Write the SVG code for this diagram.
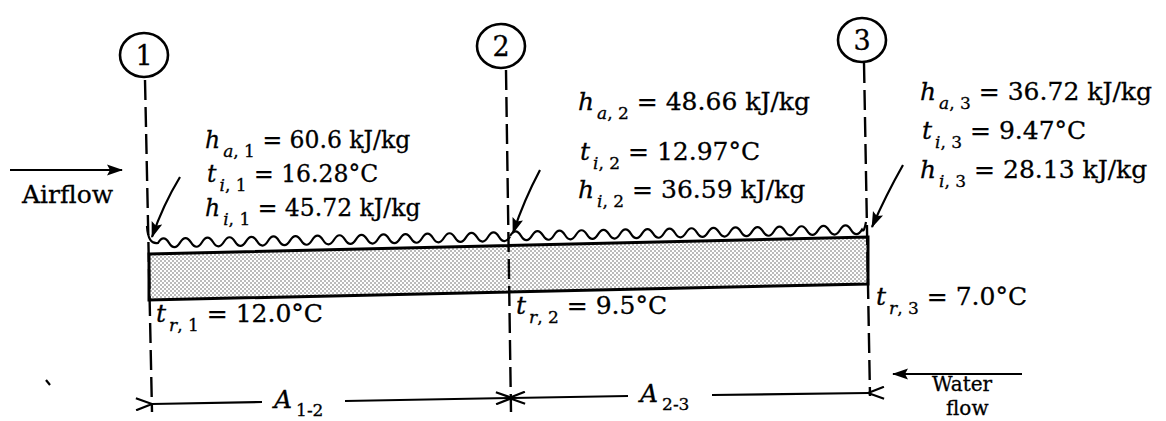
<svg xmlns="http://www.w3.org/2000/svg" width="1166" height="421" viewBox="0 0 1166 421">
<style>
.t{font-family:"DejaVu Serif","Liberation Serif",serif;font-size:25px;fill:#000;stroke:#000;stroke-width:0.3}
.g1{font-size:23.5px}
.i{font-style:italic}
.s{font-size:17px}
.wf{font-size:20px}
.num{font-family:"DejaVu Serif","Liberation Serif",serif;font-size:27px;text-anchor:middle;stroke:#000;stroke-width:0.3}
.dash{stroke:#000;stroke-width:2.4;stroke-dasharray:20 7;fill:none}
.ln{stroke:#000;stroke-width:2.2;fill:none}
.circ{stroke:#000;stroke-width:2.6;fill:#fff}
</style>
<defs>
<pattern id="dots" width="4" height="4" patternUnits="userSpaceOnUse">
<rect width="4" height="4" fill="#fff"/>
<circle cx="1" cy="1" r="0.7" fill="#444"/>
<circle cx="3" cy="3" r="0.7" fill="#444"/>
</pattern>
<marker id="af" markerWidth="16" markerHeight="12" refX="15" refY="6" orient="auto" markerUnits="userSpaceOnUse">
<path d="M0,0.5 L16,6 L0,11.5 L3,6 z" fill="#000"/>
</marker>
<marker id="ao" markerWidth="18" markerHeight="14" refX="1" refY="7" orient="auto-start-reverse" markerUnits="userSpaceOnUse">
<path d="M17,1 L1,7 L17,13" fill="none" stroke="#000" stroke-width="2.2"/>
</marker>
</defs>

<g id="stations">
<g id="station1">
<ellipse class="circ" cx="144" cy="55" rx="24" ry="22"/>
<text class="num" x="144" y="65">1</text>
</g>
<g id="station2">
<ellipse class="circ" cx="501" cy="46" rx="24" ry="22"/>
<text class="num" x="501" y="56">2</text>
</g>
<g id="station3">
<ellipse class="circ" cx="862" cy="40" rx="24" ry="22"/>
<text class="num" x="862" y="50">3</text>
</g>
</g>

<g id="coil">
<polygon points="149,254 868,237 868,284 149,300" fill="url(#dots)" stroke="#000" stroke-width="3"/>
<path class="ln" d="M147,226 Q148,245 158,243 q5.5,-9 11,-0.2 t11,-0.2 t11,-0.2 t11,-0.2 t11,-0.2 t11,-0.2 t11,-0.2 t11,-0.2 t11,-0.2 t11,-0.2 t11,-0.2 t11,-0.2 t11,-0.2 t11,-0.2 t11,-0.2 t11,-0.2 t11,-0.2 t11,-0.2 t11,-0.2 t11,-0.2 t11,-0.2 t11,-0.2 t11,-0.2 t11,-0.2 t11,-0.2 t11,-0.2 t11,-0.2 t11,-0.2 t11,-0.2 t11,-0.2 t11,-0.2 t11,-0.2 M510,236 q5.5,-9 11,-0.2 t11,-0.2 t11,-0.2 t11,-0.2 t11,-0.2 t11,-0.2 t11,-0.2 t11,-0.2 t11,-0.2 t11,-0.2 t11,-0.2 t11,-0.2 t11,-0.2 t11,-0.2 t11,-0.2 t11,-0.2 t11,-0.2 t11,-0.2 t11,-0.2 t11,-0.2 t11,-0.2 t11,-0.2 t11,-0.2 t11,-0.2 t11,-0.2 t11,-0.2 t11,-0.2 t11,-0.2 t11,-0.2 t11,-0.2 t11,-0.2 t11,-0.2 Q864,233 866,222"/>
</g>

<g id="connectors">
<line class="dash" x1="145" y1="80" x2="152" y2="412"/>
<line class="dash" x1="506" y1="70" x2="511" y2="412"/>
<line class="dash" x1="864" y1="63" x2="870" y2="396"/>
<line class="ln" x1="10" y1="170" x2="122" y2="170" marker-end="url(#af)"/>
<line class="ln" x1="1022" y1="374" x2="893" y2="374" marker-end="url(#af)"/>
<path class="ln" d="M180,177 Q163,205 152,237" marker-end="url(#af)"/>
<path class="ln" d="M540,170 Q524,200 513,233" marker-end="url(#af)"/>
<path class="ln" d="M903,165 Q886,195 872,227" marker-end="url(#af)"/>
<line class="ln" x1="152" y1="404" x2="262" y2="402" marker-start="url(#ao)"/>
<line class="ln" x1="345" y1="401" x2="509" y2="398" marker-end="url(#ao)"/>
<line class="ln" x1="512" y1="398" x2="628" y2="396" marker-start="url(#ao)"/>
<line class="ln" x1="712" y1="395" x2="868" y2="393" marker-end="url(#ao)"/>
<line class="ln" x1="46" y1="380" x2="50" y2="385"/>
</g>

<g id="labels">
<text class="t" x="22" y="203">Airflow</text>
<text class="t g1" x="205" y="148"><tspan class="i">h</tspan><tspan class="s" dx="3" dy="9"><tspan class="i">a</tspan>, 1</tspan><tspan dy="-9"> = 60.6 kJ/kg</tspan></text>
<text class="t g1" x="207" y="182"><tspan class="i">t</tspan><tspan class="s" dx="3" dy="9"><tspan class="i">i</tspan>, 1</tspan><tspan dy="-9"> = 16.28°C</tspan></text>
<text class="t g1" x="205" y="216"><tspan class="i">h</tspan><tspan class="s" dx="3" dy="9"><tspan class="i">i</tspan>, 1</tspan><tspan dy="-9"> = 45.72 kJ/kg</tspan></text>

<text class="t" x="578" y="110"><tspan class="i">h</tspan><tspan class="s" dx="3" dy="9"><tspan class="i">a</tspan>, 2</tspan><tspan dy="-9"> = 48.66 kJ/kg</tspan></text>
<text class="t" x="580" y="160"><tspan class="i">t</tspan><tspan class="s" dx="3" dy="9"><tspan class="i">i</tspan>, 2</tspan><tspan dy="-9"> = 12.97°C</tspan></text>
<text class="t" x="578" y="198"><tspan class="i">h</tspan><tspan class="s" dx="3" dy="9"><tspan class="i">i</tspan>, 2</tspan><tspan dy="-9"> = 36.59 kJ/kg</tspan></text>

<text class="t" x="920" y="100"><tspan class="i">h</tspan><tspan class="s" dx="3" dy="9"><tspan class="i">a</tspan>, 3</tspan><tspan dy="-9"> = 36.72 kJ/kg</tspan></text>
<text class="t" x="922" y="139"><tspan class="i">t</tspan><tspan class="s" dx="3" dy="9"><tspan class="i">i</tspan>, 3</tspan><tspan dy="-9"> = 9.47°C</tspan></text>
<text class="t" x="920" y="178"><tspan class="i">h</tspan><tspan class="s" dx="3" dy="9"><tspan class="i">i</tspan>, 3</tspan><tspan dy="-9"> = 28.13 kJ/kg</tspan></text>

<text class="t" x="156" y="322"><tspan class="i">t</tspan><tspan class="s" dx="3" dy="9"><tspan class="i">r</tspan>, 1</tspan><tspan dy="-9"> = 12.0°C</tspan></text>
<text class="t" x="516" y="314"><tspan class="i">t</tspan><tspan class="s" dx="3" dy="9"><tspan class="i">r</tspan>, 2</tspan><tspan dy="-9"> = 9.5°C</tspan></text>
<text class="t" x="876" y="305"><tspan class="i">t</tspan><tspan class="s" dx="3" dy="9"><tspan class="i">r</tspan>, 3</tspan><tspan dy="-9"> = 7.0°C</tspan></text>

<text class="t" x="274" y="408"><tspan class="i">A</tspan><tspan class="s" dx="4" dy="8">1-2</tspan></text>
<text class="t" x="640" y="402"><tspan class="i">A</tspan><tspan class="s" dx="4" dy="8">2-3</tspan></text>

<text class="t wf" x="932" y="391">Water</text>
<text class="t wf" x="946" y="415">flow</text>
</g>
</svg>
